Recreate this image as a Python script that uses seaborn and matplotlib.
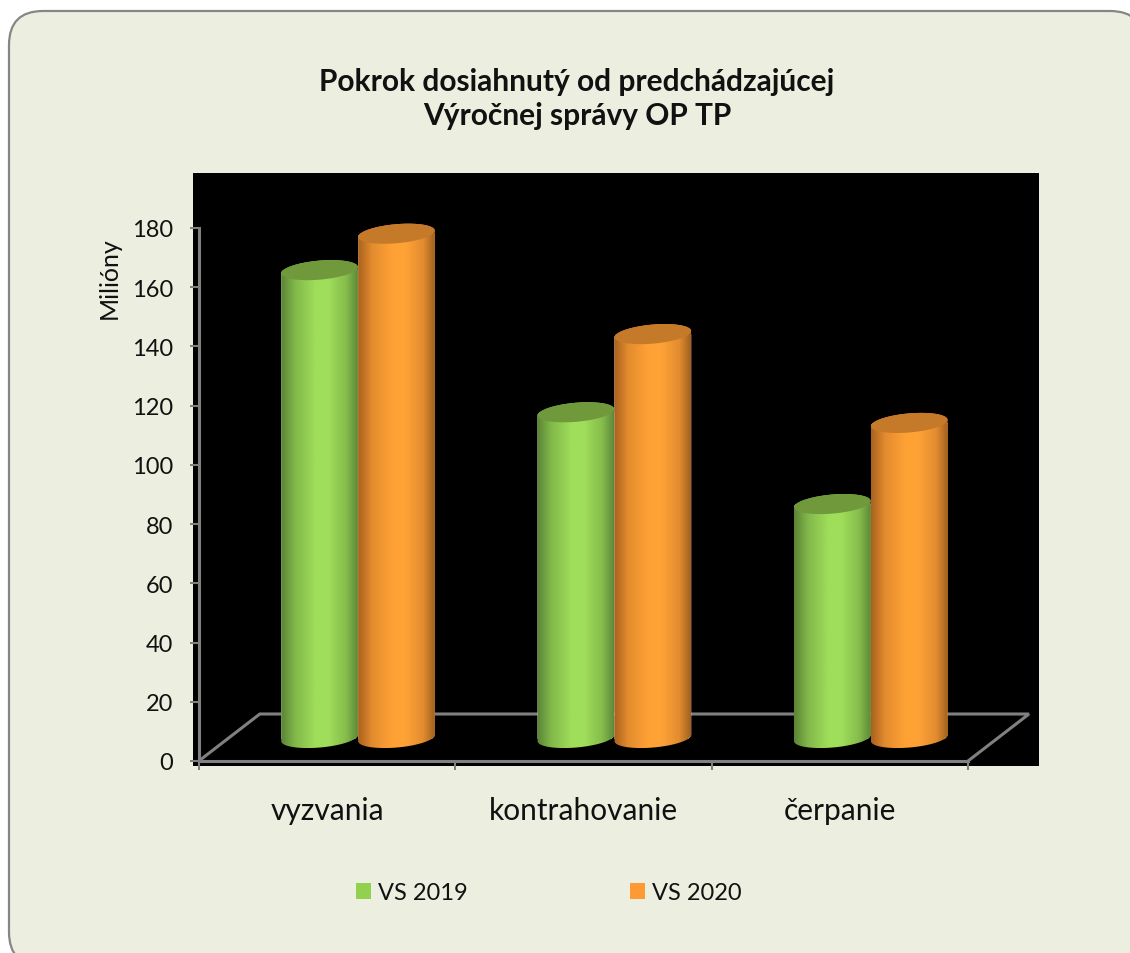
"""
Pokrok dosiahnuty od predchadzajucej Vyrocnej spravy OP TP - 3D style cylinders
"""

import numpy as np
import pandas as pd
import matplotlib
matplotlib.use('Agg')
import matplotlib.pyplot as plt
from matplotlib.colors import LinearSegmentedColormap
from matplotlib.patches import FancyBboxPatch, Patch, PathPatch, Polygon
from matplotlib.path import Path
import seaborn as sns

# Data (millions)
categories = ['vyzvania', 'kontrahovanie', 'čerpanie']
series_names = ['VS 2019', 'VS 2020']
vs_2019 = [158, 110, 79]
vs_2020 = [170.3, 136.4, 106.4]
y_ticks = [0, 20, 40, 60, 80, 100, 120, 140, 160, 180]

df = pd.DataFrame({
    'category': categories * 2,
    'series': [series_names[0]] * 3 + [series_names[1]] * 3,
    'value': vs_2019 + vs_2020,
})

sns.set_theme(style='white')
plt.rcParams['font.family'] = ['Lato', 'DejaVu Sans']

W, H = 1130, 954
GREY = '#808080'
TEXT = '#111111'
palette = {'VS 2019': '#92D050', 'VS 2020': '#FF9933'}
top_colors = {'VS 2019': '#70993C', 'VS 2020': '#C47A28'}
shades = {
    'VS 2019': ['#5A8436', '#82B84A', '#9FDE5A', '#9FDE5A', '#86BC4C', '#5F8A3A'],
    'VS 2020': ['#A9621F', '#E38B2E', '#FFA236', '#FFA236', '#E38C30', '#A3601F'],
}
stops = [0, 0.18, 0.45, 0.62, 0.85, 1]


def px_axes(left, top, right, bottom):
    return fig.add_axes([left / W, 1 - bottom / H, (right - left) / W, (bottom - top) / H])


fig = plt.figure(figsize=(W / 100, H / 100), dpi=100, facecolor='white')

# Rounded panel behind everything
bg = fig.add_axes([0, 0, 1, 1], zorder=0)
bg.set_xlim(0, W)
bg.set_ylim(H, 0)
bg.axis('off')
bg.add_patch(FancyBboxPatch((9, 12), 1135, 955, boxstyle='round,pad=0,rounding_size=34',
                            facecolor='#ECEFDF', edgecolor='#868686', linewidth=1.6))

# Black plot area with the axes, 0 sits at pixel 762 and 180 at pixel 229
px_per_unit = (762 - 229) / 180
px_per_cat = 256.4
xlim = ((193 - 327) / px_per_cat, (1039 - 327) / px_per_cat)
ylim = ((762 - 767) / px_per_unit, (762 - 174) / px_per_unit)

ax = px_axes(193, 174, 1039, 767)
ax.set_zorder(1)
ax.set_facecolor('black')
ax.set_xlim(xlim)
ax.set_ylim(ylim)
for side in ['top', 'right']:
    ax.spines[side].set_visible(False)
ax.spines['left'].set_position(('data', -0.5))
ax.spines['left'].set_bounds(0, 180)
ax.spines['bottom'].set_position(('data', 0))
ax.spines['bottom'].set_bounds(-0.5, 2.5)
for side in ['left', 'bottom']:
    ax.spines[side].set_color(GREY)
    ax.spines[side].set_linewidth(2.2)

ax.set_yticks(y_ticks)
ax.set_xticks(range(len(categories)))
ax.set_xticklabels(categories)
ax.set_xticks([-0.5, 0.5, 1.5, 2.5], minor=True)
ax.tick_params(axis='y', left=True, length=6.5, width=1.5, color=GREY, pad=12,
               labelsize=17, labelcolor=TEXT)
ax.tick_params(axis='x', which='major', bottom=False, pad=19, labelsize=21.5, labelcolor=TEXT)
ax.tick_params(axis='x', which='minor', bottom=True, length=6.5, width=1.5, color=GREY)
ax.set_ylabel('Milióny', fontsize=18, color=TEXT)
ax.yaxis.set_label_coords((121 - 193) / 846, (767 - 278) / 593)

# Floor of the 3D box
depth_x = 61 / px_per_cat
depth_y = 47 / px_per_unit
ax.plot([-0.5, -0.5 + depth_x, 2.5 + depth_x, 2.5], [0, depth_y, depth_y, 0],
        color=GREY, linewidth=2.2, solid_joinstyle='miter', clip_on=False)

# Bars sit half way into the depth of the box, 0 at pixel 739
bars_ax = px_axes(193 + 31, 151, 1039 + 31, 767)
bars_ax.set_zorder(2)
bars_ax.patch.set_alpha(0)
sns.barplot(data=df, x='category', y='value', hue='series', order=categories,
            hue_order=series_names, palette=palette, width=0.6, gap=0, saturation=1,
            legend=False, ax=bars_ax)
bars_ylim = ((739 - 767) / px_per_unit, (739 - 151) / px_per_unit)
bars_ax.set_xlim(xlim)
bars_ax.set_ylim(bars_ylim)
bars_ax.axis('off')

tilt = np.deg2rad(5)
semi_b = 9.5


def ellipse_px(cx, cy, semi_a, t):
    x = cx + semi_a * np.cos(t) * np.cos(tilt) - semi_b * np.sin(t) * np.sin(tilt)
    y = cy + semi_a * np.cos(t) * np.sin(tilt) + semi_b * np.sin(t) * np.cos(tilt)
    return np.column_stack([x, y])


to_px = bars_ax.transData
to_data = bars_ax.transData.inverted()
t0 = np.arctan(-(semi_b / 80) * np.tan(tilt))
upper = np.linspace(t0, t0 + np.pi, 60)
lower = np.linspace(t0 + np.pi, t0 + 2 * np.pi, 60)

n_cat = len(categories)
bar_patches = list(bars_ax.patches)[:n_cat * 2]
for i, bar in enumerate(bar_patches):
    name = series_names[i // n_cat]
    x0, x1 = bar.get_x(), bar.get_x() + bar.get_width()
    (px0, py0), (px1, py1) = to_px.transform([(x0, 0), (x1, bar.get_height())])
    cx = (px0 + px1) / 2
    semi_a = (px1 - px0) / 2

    top_half = ellipse_px(cx, py1, semi_a, upper)
    bottom_half = ellipse_px(cx, py0, semi_a, lower)
    outline = to_data.transform(np.vstack([top_half, bottom_half]))
    cylinder = PathPatch(Path(np.vstack([outline, outline[0]]), closed=True),
                         transform=bars_ax.transData, facecolor='none', edgecolor='none')
    bars_ax.add_patch(cylinder)
    bar.set_zorder(2 + i)
    bar.set_clip_path(cylinder)

    # Horizontal shading of the cylinder wall
    cmap = LinearSegmentedColormap.from_list(name, list(zip(stops, shades[name])))
    y_low, y_high = outline[:, 1].min(), outline[:, 1].max()
    wall = bars_ax.imshow(np.linspace(0, 1, 128).reshape(1, -1), cmap=cmap, aspect='auto',
                          extent=(x0, x1, y_low, y_high), interpolation='bilinear',
                          zorder=2 + i)
    wall.set_clip_path(cylinder)

    cap = to_data.transform(ellipse_px(cx, py1, semi_a, np.linspace(0, 2 * np.pi, 120)))
    bars_ax.add_patch(Polygon(cap, closed=True, facecolor=top_colors[name], edgecolor='none',
                              zorder=2 + i))

bars_ax.set_xlim(xlim)
bars_ax.set_ylim(bars_ylim)

# Title
fig.text(577 / W, 1 - 99 / H, 'Pokrok dosiahnutý od predchádzajúcej\nVýročnej správy OP TP',
         ha='center', va='center', fontsize=21.5, fontweight='bold', color=TEXT, linespacing=1.25)

# Legend
handles = [Patch(facecolor=palette[s], edgecolor='none') for s in series_names]
fig.legend(handles, series_names, ncol=2, frameon=False, fontsize=17, loc='center left',
           bbox_to_anchor=(335 / W, 1 - 894 / H), handlelength=0.64, handleheight=0.64,
           handletextpad=0.3, columnspacing=6.85, labelcolor=TEXT)

plt.savefig('out.png', dpi=100)
